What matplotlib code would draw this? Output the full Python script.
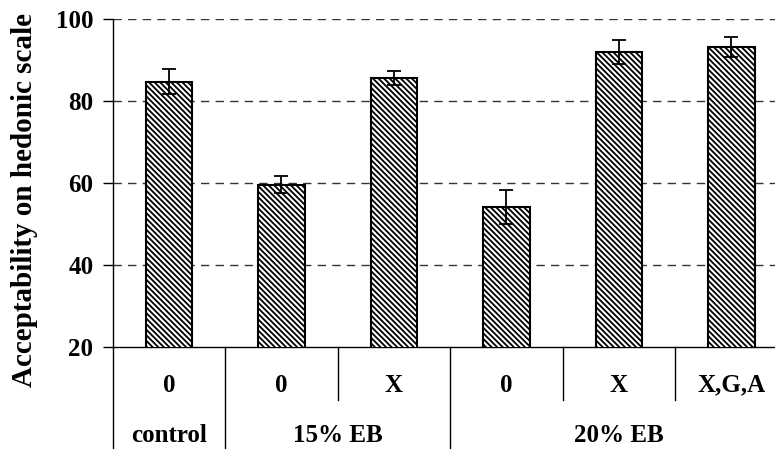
import matplotlib
matplotlib.use("Agg")
import matplotlib.pyplot as plt
import numpy as np

# Data
sub_labels = ["0", "0", "X", "0", "X", "X,G,A"]
group_labels = ["control", "15% EB", "20% EB"]
group_sizes = [1, 2, 3]
values = [84.7, 59.6, 85.7, 54.1, 92.0, 93.2]
errors = [3.0, 2.0, 1.7, 4.2, 2.9, 2.5]
yticks = [20, 40, 60, 80, 100]

plt.rcParams['font.family'] = ['Liberation Serif', 'DejaVu Serif']
plt.rcParams['font.weight'] = 'bold'
plt.rcParams['hatch.linewidth'] = 1.3
plt.rcParams['hatch.color'] = '#111111'

W, H = 775, 449
fig = plt.figure(figsize=(W / 100, H / 100), dpi=100)
left_px, bottom_px, top_px, cat_w = 112.7, 347, 19, 112.5
ax = fig.add_axes([left_px / W, (H - bottom_px) / H,
                   6 * cat_w / W, (bottom_px - top_px) / H])

x = np.arange(len(values))
ax.bar(x, values, width=0.41, color='white', edgecolor='black',
       linewidth=1.5, hatch='\\' * 6, zorder=3)
ax.errorbar(x, values, yerr=errors, fmt='none', ecolor='black',
            elinewidth=1.3, capsize=4.7, capthick=1.3, zorder=4)

ax.set_xlim(-0.5, 5.5)
ax.set_ylim(20, 100)
ax.set_yticks(yticks)
ax.set_yticklabels([str(t) for t in yticks], fontsize=18, fontweight='bold')
ax.tick_params(axis='y', direction='out', length=7, width=1, pad=7)
ax.set_xticks([])
for t in yticks[1:]:
    ax.axhline(t, color='#333333', lw=1, ls=(0, (6, 4.5)), zorder=1)

for s in ['top', 'right']:
    ax.spines[s].set_visible(False)
ax.spines['left'].set_linewidth(1)
ax.spines['bottom'].set_linewidth(1)

trans = ax.get_xaxis_transform()
ax_h = bottom_px - top_px
row1 = -38 / ax_h
row2 = -88 / ax_h
short_end = -53 / ax_h
long_end = -102 / ax_h

for i, lab in enumerate(sub_labels):
    ax.text(i, row1, lab, transform=trans, ha='center', va='center',
            fontsize=18, fontweight='bold')

# Group labels
start = 0
for g, n in zip(group_labels, group_sizes):
    center = start + (n - 1) / 2
    ax.text(center, row2, g, transform=trans, ha='center', va='center',
            fontsize=18, fontweight='bold')
    start += n

# left axis extension
ax.plot([-0.5, -0.5], [0, long_end], transform=trans, color='black',
        lw=1, clip_on=False)
cum = 0
group_ends = set()
for n in group_sizes:
    cum += n
    group_ends.add(cum - 0.5)
for i in range(1, len(values)):
    b = i - 0.5
    end = long_end if b in group_ends else short_end
    ax.plot([b, b], [0, end], transform=trans, color='black', lw=1,
            clip_on=False)

fig.text(0.031, 1 - 200 / H, "Acceptability on hedonic scale", rotation=90,
         ha='center', va='center', fontsize=21, fontweight='bold')

fig.savefig("out.png", dpi=100)
